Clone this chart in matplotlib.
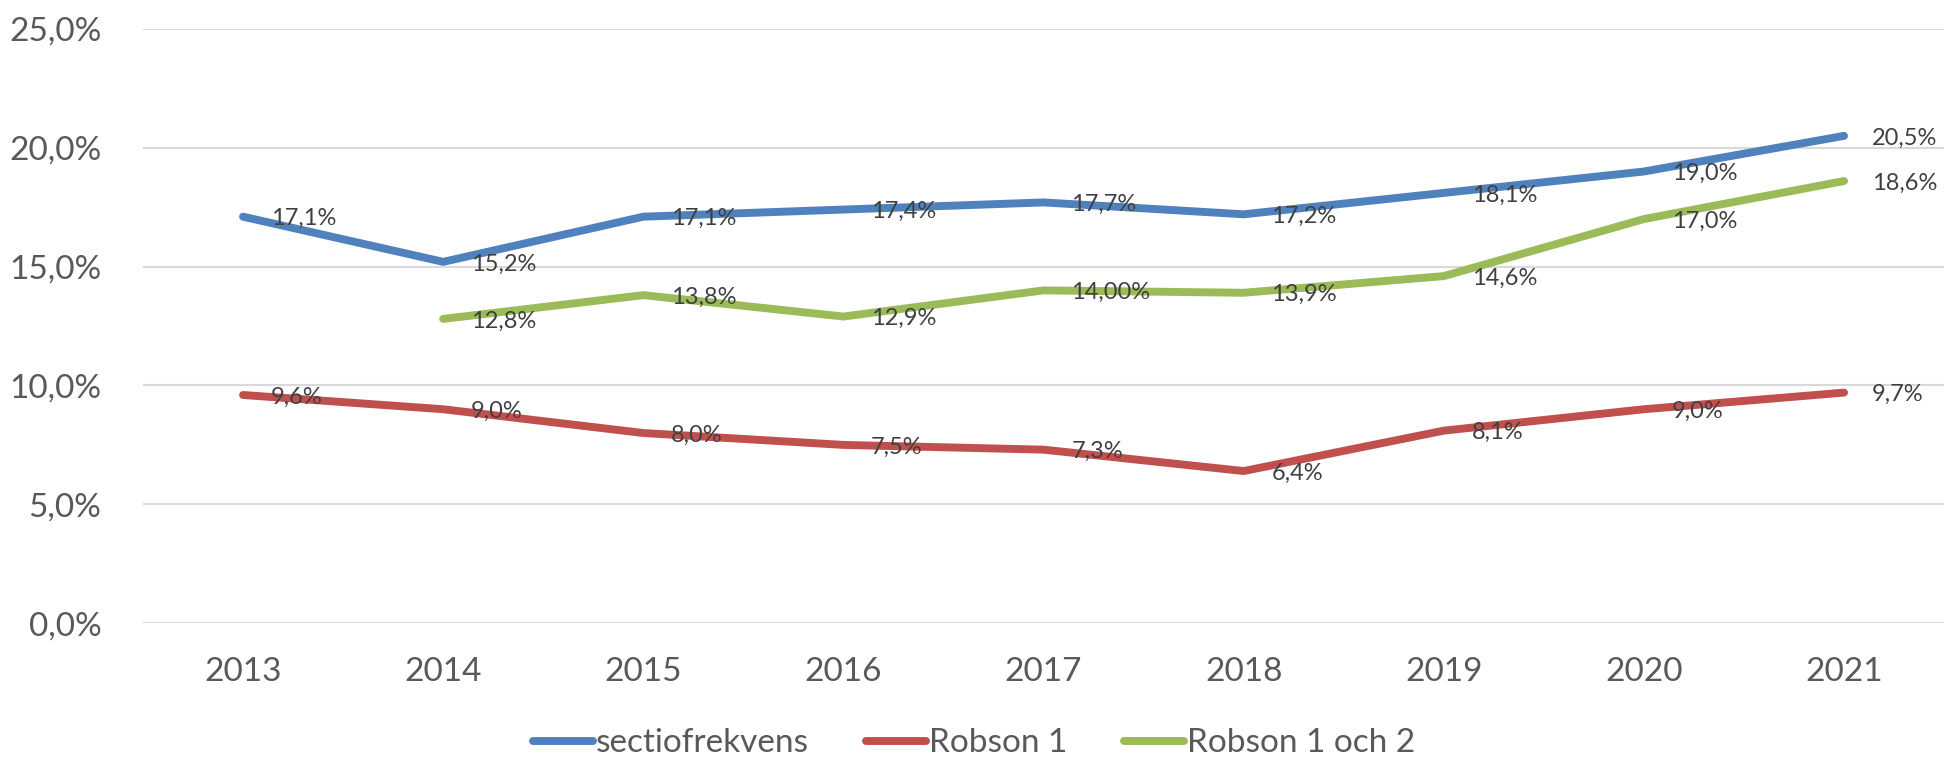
import matplotlib

matplotlib.use("Agg")
import matplotlib.pyplot as plt
import numpy as np

years = ["2013", "2014", "2015", "2016", "2017", "2018", "2019", "2020", "2021"]
sectio = [17.1, 15.2, 17.1, 17.4, 17.7, 17.2, 18.1, 19.0, 20.5]
robson1 = [9.6, 9.0, 8.0, 7.5, 7.3, 6.4, 8.1, 9.0, 9.7]
robson12 = [np.nan, 12.8, 13.8, 12.9, 14.0, 13.9, 14.6, 17.0, 18.6]
robson12_labels = ["", "12,8%", "13,8%", "12,9%", "14,00%", "13,9%", "14,6%", "17,0%", "18,6%"]
y_ticks = [0, 5, 10, 15, 20, 25]


def _pct(v):
    return f"{v:.1f}".replace(".", ",") + "%"


plt.rcParams["font.family"] = ["Lato", "DejaVu Sans"]

fig = plt.figure(figsize=(19.48, 7.6), dpi=100)
ax = fig.add_axes([0.0734, 0.180, 0.9246, 0.782])

x = np.arange(len(years))
series = [
    ("sectiofrekvens", sectio, "#4F81BD", [_pct(v) for v in sectio]),
    ("Robson 1", robson1, "#C0504D", [_pct(v) for v in robson1]),
    ("Robson 1 och 2", robson12, "#9BBB59", robson12_labels),
]

for name, vals, color, labels in series:
    ax.plot(x, vals, color=color, linewidth=5.7, solid_capstyle="round",
            solid_joinstyle="round", label=name, zorder=3)
    # data labels sit to the right of each point
    for xi, v, lab in zip(x, vals, labels):
        if not lab:
            continue
        ax.annotate(lab, (xi, v), xytext=(20, -1.5), textcoords="offset points",
                    ha="left", va="center", fontsize=17, color="#404040", zorder=4)

ax.set_xlim(-0.5, len(years) - 0.5)
ax.set_ylim(0, 25)
ax.set_xticks(x)
ax.set_xticklabels(years)
ax.set_yticks(y_ticks)
ax.set_yticklabels([_pct(v) for v in y_ticks])
ax.tick_params(axis="both", length=0, labelsize=24, labelcolor="#595959")
ax.tick_params(axis="y", pad=30)
ax.tick_params(axis="x", pad=24)
ax.grid(True, axis="y", color="#D9D9D9", linewidth=1.5, zorder=0)
for s in ax.spines.values():
    s.set_visible(False)

fig.legend(loc="center", bbox_to_anchor=(0.5, 0.022), ncol=3, frameon=False,
           fontsize=24, handlelength=1.8, handletextpad=0.1, columnspacing=1.7,
           labelcolor="#595959")

fig.savefig("out.png", dpi=100)
